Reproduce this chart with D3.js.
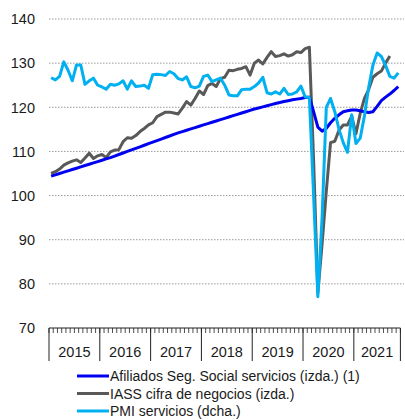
<!DOCTYPE html>
<html>
<head>
<meta charset="utf-8">
<script src="https://cdn.jsdelivr.net/npm/d3@7"></script>
<style>
  body { margin: 0; background: #fff; }
  text { font-family: "Liberation Sans", Arial, sans-serif; fill: #1a1a1a; }
</style>
</head>
<body>
<div id="graph-container"></div>
<script>
// months Jan 2015 .. Nov 2021
const years = [2015, 2016, 2017, 2018, 2019, 2020, 2021];
const nMonths = 83;
const yTicks = [70, 80, 90, 100, 110, 120, 130, 140];

const afiliados = [
  104.4, 104.7, 105.0, 105.3, 105.6, 105.9, 106.2, 106.5, 106.8, 107.1, 107.4, 107.7,
  108.0, 108.3, 108.6, 108.95, 109.3, 109.65, 110.0, 110.35, 110.7, 111.05, 111.4, 111.75,
  112.1, 112.45, 112.8, 113.15, 113.5, 113.85, 114.2, 114.5, 114.8, 115.1, 115.4, 115.7,
  116.0, 116.3, 116.6, 116.9, 117.2, 117.5, 117.8, 118.1, 118.4, 118.7, 119.0, 119.3,
  119.6, 119.85, 120.1, 120.35, 120.6, 120.85, 121.1, 121.3, 121.5, 121.7, 121.85, 122.0,
  122.2, 122.3, 119.0, 115.5, 114.6, 115.2, 116.5, 117.5, 118.3, 119.0, 119.2, 119.4,
  119.4, 119.2, 119.0, 118.8, 119.0, 120.2, 121.5, 122.3, 123.0, 123.8, 124.7
];

const iass = [
  105.0, 105.4, 106.0, 106.9, 107.4, 107.8, 108.1, 107.5, 108.5, 109.6, 108.4, 109.0,
  109.3, 108.6, 109.9, 110.3, 110.4, 112.2, 113.1, 113.0, 113.6, 114.5, 115.2, 116.0,
  116.5, 117.9, 118.4, 118.9, 118.9, 118.7, 118.5, 119.8, 121.3, 120.5, 122.0, 123.7,
  122.9, 124.9, 125.4, 124.7, 126.5, 126.8, 128.4, 128.3, 128.6, 128.8, 129.2, 127.3,
  130.0, 130.7, 129.8, 131.3, 132.6, 131.5, 131.7, 132.1, 131.6, 131.9, 132.6, 132.4,
  133.3, 133.6, 108.0, 78.0, 89.0, 101.0, 112.0, 112.3, 114.8, 116.0, 116.0, 118.0,
  114.0, 118.6, 122.0, 124.0, 126.8, 127.6, 128.2, 130.0, 131.6
];

const pmi = [
  126.7, 126.2, 127.0, 130.3, 128.4, 126.0, 129.6, 129.6, 125.2, 126.0, 126.6, 125.0,
  124.6, 124.1, 125.2, 125.0, 125.3, 126.0, 124.1, 126.0, 124.7, 124.8, 125.0, 124.3,
  127.4, 127.5, 127.4, 127.2, 128.1, 127.6, 126.5, 126.2, 126.9, 124.7, 124.4, 124.8,
  127.0, 127.3, 125.8, 126.2, 126.6, 125.0, 122.8, 122.6, 122.6, 124.0, 124.1, 124.1,
  124.7, 125.5, 126.8, 123.3, 123.0, 123.5, 123.0, 124.3, 122.9, 123.0, 123.5, 124.8,
  122.4, 122.2, 100.0, 77.1, 95.0, 120.0, 122.0, 119.0, 115.0, 112.0, 109.8, 118.3,
  111.8, 113.0, 118.0, 124.5, 129.5, 132.3, 131.5, 129.5, 127.0, 126.6, 127.8
];

const seriesNames = [
  "Afiliados Seg. Social servicios (izda.) (1)",
  "IASS cifra de negocios (izda.)",
  "PMI servicios (dcha.)"
];
const colors = ["#0000f0", "#595959", "#00b0f0"];

const width = 405;
const height = 420;
const margin = { top: 19, right: 5, bottom: 92, left: 49 };

const svg = d3
  .select("#graph-container")
  .append("svg")
  .attr("width", width)
  .attr("height", height);

const x = d3
  .scaleBand()
  .domain(d3.range(nMonths))
  .range([margin.left, 400.4])
  .padding(0);

const y = d3
  .scaleLinear()
  .domain([70, 140])
  .range([height - margin.bottom, margin.top]);

// PMI on the right scale (no axis drawn), read in the same units
const y2 = y.copy();

//gridlines
svg
  .selectAll("line.grid")
  .data(yTicks.filter((d) => d > 70))
  .enter()
  .append("line")
  .attr("class", "grid")
  .attr("x1", margin.left)
  .attr("x2", 404)
  .attr("y1", (d) => y(d))
  .attr("y2", (d) => y(d))
  .attr("stroke", "#9a9a9a")
  .attr("stroke-width", 1)
  .attr("stroke-dasharray", "1.5,1.5");

//y labels
svg
  .selectAll("text.ylab")
  .data(yTicks)
  .enter()
  .append("text")
  .attr("class", "ylab")
  .attr("x", 35)
  .attr("y", (d) => y(d))
  .attr("dy", "0.36em")
  .attr("text-anchor", "end")
  .style("font-size", "14.5px")
  .text((d) => d);

//x axis
const axisY = y(70);
svg
  .append("line")
  .attr("x1", margin.left)
  .attr("x2", x.range()[1])
  .attr("y1", axisY)
  .attr("y2", axisY)
  .attr("stroke", "#222")
  .attr("stroke-width", 1);

svg
  .selectAll("line.mtick")
  .data(d3.range(nMonths + 1))
  .enter()
  .append("line")
  .attr("class", "mtick")
  .attr("x1", (d) => (d < nMonths ? x(d) : x.range()[1]))
  .attr("x2", (d) => (d < nMonths ? x(d) : x.range()[1]))
  .attr("y1", axisY)
  .attr("y2", axisY + 5)
  .attr("stroke", "#222")
  .attr("stroke-width", 0.8);

const yearStart = (yr) => x((yr - 2015) * 12);
const yearEnd = (yr) => (yr === 2021 ? x.range()[1] : x((yr - 2014) * 12));

svg
  .selectAll("line.ysep")
  .data(years.concat([2022]))
  .enter()
  .append("line")
  .attr("class", "ysep")
  .attr("x1", (d) => (d === 2022 ? x.range()[1] : yearStart(d)))
  .attr("x2", (d) => (d === 2022 ? x.range()[1] : yearStart(d)))
  .attr("y1", axisY)
  .attr("y2", axisY + 33)
  .attr("stroke", "#222")
  .attr("stroke-width", 1);

svg
  .selectAll("text.year")
  .data(years)
  .enter()
  .append("text")
  .attr("class", "year")
  .attr("x", (d) => (yearStart(d) + yearEnd(d)) / 2)
  .attr("y", 352)
  .attr("dy", "0.36em")
  .attr("text-anchor", "middle")
  .style("font-size", "14.5px")
  .text((d) => d);

//lines
const cx = (i) => x(i) + x.bandwidth() / 2;
const lineL = d3.line().x((d, i) => cx(i)).y((d) => y(d));
const lineR = d3.line().x((d, i) => cx(i)).y((d) => y2(d));

const drawn = [
  { data: iass, gen: lineL, color: colors[1] },
  { data: afiliados, gen: lineL, color: colors[0] },
  { data: pmi, gen: lineR, color: colors[2] },
];

svg
  .selectAll("path.series")
  .data(drawn)
  .enter()
  .append("path")
  .attr("class", "series")
  .attr("fill", "none")
  .attr("stroke", (d) => d.color)
  .attr("stroke-width", 3)
  .attr("stroke-linejoin", "round")
  .attr("d", (d) => d.gen(d.data));

//legend
const legend = svg
  .selectAll("g.legend")
  .data(seriesNames)
  .enter()
  .append("g")
  .attr("class", "legend")
  .attr("transform", (d, i) => `translate(77,${376 + i * 17.5})`);

legend
  .append("line")
  .attr("x1", 0)
  .attr("x2", 32)
  .attr("stroke", (d, i) => colors[i])
  .attr("stroke-width", 3);

legend
  .append("text")
  .attr("x", 33)
  .attr("dy", "0.36em")
  .style("font-size", "14px")
  .text((d) => d);
</script>
</body>
</html>
